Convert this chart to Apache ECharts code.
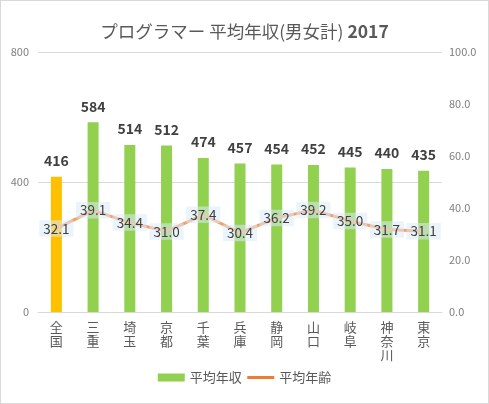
<!DOCTYPE html>
<html><head><meta charset="utf-8">
<script src="https://cdn.jsdelivr.net/npm/echarts@6/dist/echarts.min.js"></script>
<style>html,body{margin:0;padding:0;background:#fff}#c{width:487px;height:402px;border:1px solid #d9d9d9}</style>
</head><body><div id="c"></div>
<script>
var categories = ['全国','三重','埼玉','京都','千葉','兵庫','静岡','山口','岐阜','神奈川','東京'];
var salary = [416,584,514,512,474,457,454,452,445,440,435];
var age = [32.1,39.1,34.4,31.0,37.4,30.4,36.2,39.2,35.0,31.7,31.1];
var leftTicks = {min:0,max:800,interval:400};
var rightTicks = {min:0,max:100,interval:20};

var FONT = '"Noto Sans CJK JP", sans-serif';
var chart = echarts.init(document.getElementById('c'));
chart.setOption({
  animation:false,
  textStyle:{fontFamily:FONT},
  title:{
    text:'{a|プログラマー 平均年収(男女計) }{b|2017}',
    left:'center', top:17,
    textStyle:{fontWeight:'normal',rich:{
      a:{fontSize:17.5,color:'#595959',fontWeight:'normal',fontFamily:FONT},
      b:{fontSize:17.5,color:'#595959',fontWeight:'bold',fontFamily:FONT}
    }}
  },
  legend:{
    bottom:14, left:'center', itemWidth:27, itemHeight:8, itemGap:4,
    textStyle:{color:'#595959',fontSize:13,fontFamily:FONT},
    data:[
      {name:'平均年収',icon:'rect',itemStyle:{color:'#92D050'}},
      {name:'平均年齢',itemStyle:{opacity:0},lineStyle:{color:'#ED7D31',width:3}}
    ]
  },
  grid:{left:37,right:46,top:51,bottom:91},
  xAxis:{
    type:'category', data:categories,
    axisLine:{lineStyle:{color:'#d9d9d9'}}, axisTick:{show:false},
    axisLabel:{color:'#595959',fontSize:13,lineHeight:14,margin:8,interval:0,
      formatter:function(v){return v.split('').join('\n');}}
  },
  yAxis:[
    {type:'value',min:leftTicks.min,max:leftTicks.max,interval:leftTicks.interval,
      axisLine:{show:false},axisTick:{show:false},
      splitLine:{lineStyle:{color:'#d9d9d9'}},
      axisLabel:{color:'#7f7f7f',fontSize:11,margin:9}},
    {type:'value',min:rightTicks.min,max:rightTicks.max,interval:rightTicks.interval,
      axisLine:{show:false},axisTick:{show:false},splitLine:{show:false},
      axisLabel:{color:'#7f7f7f',fontSize:11,margin:7,formatter:function(v){return v.toFixed(1);}}}
  ],
  series:[
    {name:'平均年収',type:'bar',yAxisIndex:0,barWidth:11,
      data:salary.map(function(v,i){return {value:v,itemStyle:{color:i===0?'#FFC000':'#92D050'}};}),
      itemStyle:{color:'#92D050'},
      label:{show:true,position:'top',distance:9,color:'#404040',fontSize:14,fontWeight:'bold',fontFamily:FONT}},
    {name:'平均年齢',type:'line',yAxisIndex:1,data:age,symbol:'circle',symbolSize:1,showSymbol:true,
      itemStyle:{color:'#F2A06A'},
      lineStyle:{color:'#F2A06A',width:3},
      label:{show:true,position:'inside',color:'#404040',fontSize:13.5,fontFamily:FONT,
        backgroundColor:'rgba(221,235,247,0.55)',padding:[2,4,1,4],
        formatter:function(p){return p.value.toFixed(1);}},
      z:3}
  ]
});
</script></body></html>
